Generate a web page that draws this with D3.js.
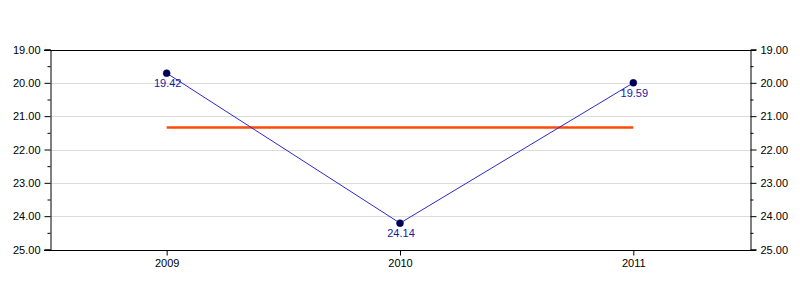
<!DOCTYPE html>
<html><head><meta charset="utf-8">
<script src="https://cdn.jsdelivr.net/npm/d3@7"></script>
<style>body{margin:0;background:#fff}svg{display:block;font-family:"Liberation Sans",Arial,sans-serif}</style>
</head><body>
<svg id="c" width="800" height="300"></svg>
<script>
const years = ["2009", "2010", "2011"];
const values = [19.71, 24.21, 20.0];
const pointLabels = ["19.42", "24.14", "19.59"];
const averageValue = 21.34;
const yTicks = [19, 20, 21, 22, 23, 24, 25];

const svg = d3.select("#c");
const m = {l: 50, r: 50, t: 49.5, b: 50.5};
const W = 800, H = 300;
const x = d3.scalePoint().domain(years).range([m.l, W - m.r]).padding(0.5);
const y = d3.scaleLinear().domain([19, 25]).range([m.t, H - m.b]);

// gridlines
svg.append("g").selectAll("line").data(yTicks.slice(1, -1)).join("line")
  .attr("x1", m.l).attr("x2", W - m.r)
  .attr("y1", d => Math.round(y(d)) + 0.5).attr("y2", d => Math.round(y(d)) + 0.5)
  .attr("stroke", "#dcdcdc").attr("stroke-width", 1);

const minor = d3.range(19.5, 25, 1);
function yAxis(axisFn, xpos) {
  const g = svg.append("g").attr("transform", `translate(${xpos},0)`)
    .call(axisFn(y).tickValues(yTicks).tickFormat(d3.format(".2f")).tickSizeOuter(0).tickSize(6).tickPadding(4));
  g.selectAll("text").attr("font-size", 11).attr("fill", "#000").attr("font-family", "Liberation Sans, Arial, sans-serif");
  g.selectAll("line").attr("stroke", "#000");
  g.select(".domain").attr("stroke", "#000");
  const g2 = svg.append("g").attr("transform", `translate(${xpos},0)`)
    .call(axisFn(y).tickValues(minor).tickFormat("").tickSizeOuter(0).tickSize(3));
  g2.select(".domain").remove();
  g2.selectAll("line").attr("stroke", "#000");
}
yAxis(d3.axisLeft, m.l + 0.5);
yAxis(d3.axisRight, W - m.r + 0.5);

// top and bottom frame
svg.append("line").attr("x1", m.l - 6).attr("x2", W - m.r + 6)
  .attr("y1", Math.round(y(19)) + 0.5).attr("y2", Math.round(y(19)) + 0.5).attr("stroke", "#000");
const gx = svg.append("g").attr("transform", `translate(0,${Math.round(y(25)) + 0.5})`)
  .call(d3.axisBottom(x).tickSizeOuter(0).tickSize(5).tickPadding(4));
gx.select(".domain").attr("d", `M${m.l - 6},0H${W - m.r + 6}`).attr("stroke", "#000");
gx.selectAll("line").attr("stroke", "#000");
gx.selectAll("text").attr("font-size", 11).attr("fill", "#000").attr("font-family", "Liberation Sans, Arial, sans-serif");

// average line
svg.append("line")
  .attr("x1", x(years[0])).attr("x2", x(years[years.length - 1]))
  .attr("y1", y(averageValue)).attr("y2", y(averageValue))
  .attr("stroke", "#ff4a0a").attr("stroke-width", 2.5);

// series line
const data = years.map((yr, i) => ({yr, v: values[i], lab: pointLabels[i]}));
svg.append("path").datum(data)
  .attr("d", d3.line().x(d => x(d.yr)).y(d => y(d.v)))
  .attr("fill", "none").attr("stroke", "#2a2acc").attr("stroke-width", 1);

svg.append("g").selectAll("circle").data(data).join("circle")
  .attr("cx", d => x(d.yr)).attr("cy", d => y(d.v)).attr("r", 3.5)
  .attr("fill", "#000050").attr("stroke", "#000080").attr("stroke-width", 0.5);

svg.append("g").selectAll("text").data(data).join("text")
  .attr("x", d => x(d.yr) + 1).attr("y", d => y(d.v) + 14)
  .attr("text-anchor", "middle").attr("font-size", 11).attr("fill", "#1a1a99")
  .text(d => d.lab);
</script>
</body></html>
